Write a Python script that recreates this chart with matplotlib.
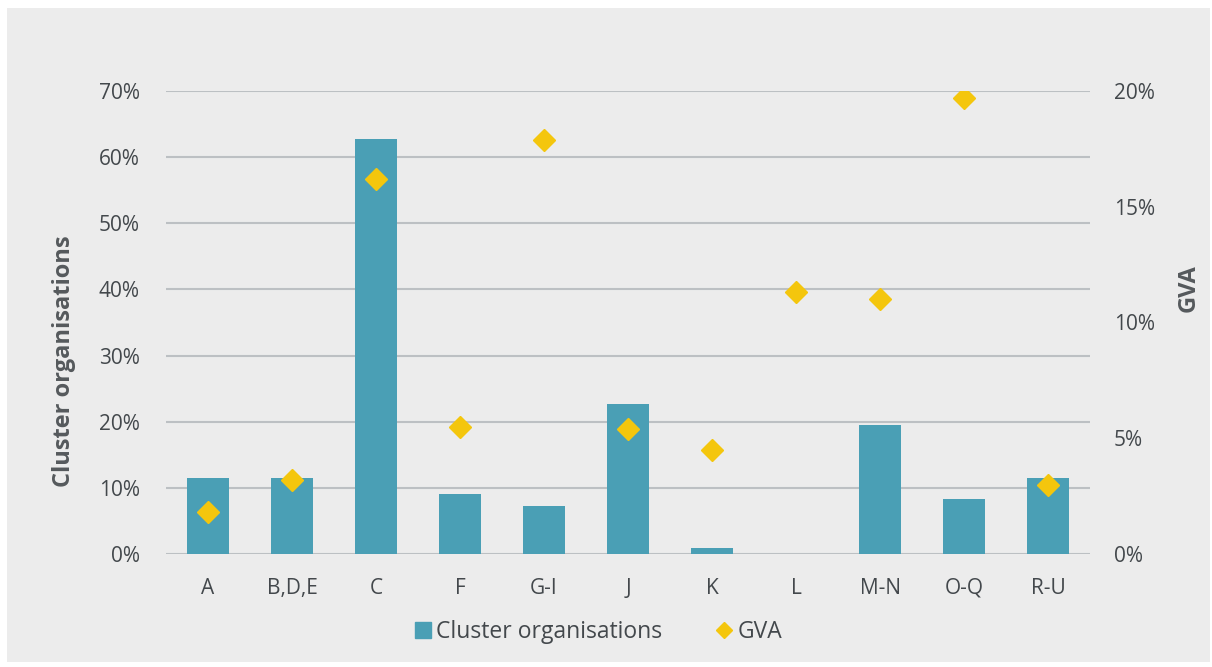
import matplotlib
matplotlib.use("Agg")
import matplotlib.pyplot as plt
from matplotlib.patches import Rectangle
from matplotlib.lines import Line2D
from matplotlib.ticker import FuncFormatter

categories = ["A", "B,D,E", "C", "F", "G-I", "J", "K", "L", "M-N", "O-Q", "R-U"]
cluster_orgs = [11.5, 11.5, 62.7, 9.1, 7.3, 22.7, 0.9, 0.0, 19.5, 8.3, 11.5]
gva = [1.8, 3.2, 16.2, 5.5, 17.9, 5.4, 4.5, 11.3, 11.0, 19.7, 3.0]
left_ticks = [0, 10, 20, 30, 40, 50, 60, 70]
right_ticks = [0, 5, 10, 15, 20]

BAR = "#4a9fb5"
DIA = "#f4c60d"
TXT = "#43484c"
GRID = "#bcc0c3"
PANEL = "#ececec"

plt.rcParams['font.family'] = ['Open Sans', 'DejaVu Sans']

fig = plt.figure(figsize=(12.12, 6.67), dpi=100)
fig.patch.set_facecolor("white")
fig.patches.append(Rectangle((7/1212, 5/667), (1210-7)/1212, (659-5)/667,
                             transform=fig.transFigure, facecolor=PANEL,
                             edgecolor="none", zorder=-10))

ax = fig.add_axes([166/1212, (667-554)/667, (1090-166)/1212, (554-91)/667])
ax.set_facecolor("none")
x = list(range(len(categories)))
ax.bar(x, cluster_orgs, width=0.5, color=BAR, zorder=3)
ax.set_xlim(-0.5, len(categories) - 0.5)
ax.set_ylim(0, 70)
ax.set_yticks(left_ticks)
ax.yaxis.set_major_formatter(FuncFormatter(lambda v, p: f"{v:.0f}%"))
ax.set_xticks(x)
ax.set_xticklabels(categories)
ax.grid(axis="y", color=GRID, linewidth=1.5, zorder=0)
for s in ax.spines.values():
    s.set_visible(False)
ax.tick_params(axis="both", length=0, labelsize=15, colors=TXT)
ax.tick_params(axis="y", pad=19)
ax.tick_params(axis="x", pad=17)
ax.set_ylabel("Cluster organisations", fontsize=17, fontweight="bold", color="#55595c")
ax.yaxis.set_label_coords(-90/924, 0.417)

ax2 = ax.twinx()
ax2.plot(x, gva, linestyle="none", marker="D", markersize=11, color=DIA, zorder=5)
ax2.set_ylim(0, 20)
ax2.set_yticks(right_ticks)
ax2.yaxis.set_major_formatter(FuncFormatter(lambda v, p: f"{v:.0f}%"))
for s in ax2.spines.values():
    s.set_visible(False)
ax2.tick_params(axis="y", length=0, labelsize=15, colors=TXT, pad=17)
ax2.set_ylabel("GVA", fontsize=17, fontweight="bold", color="#55595c")
ax2.yaxis.set_label_coords(1 + 87/924, 0.575)

handles = [Line2D([], [], linestyle="none", marker="s", markersize=11, color=BAR),
           Line2D([], [], linestyle="none", marker="D", markersize=8, color=DIA)]
fig.legend(handles, ["Cluster organisations", "GVA"], loc="center",
           bbox_to_anchor=(597/1212, 1 - 632/667), ncol=2, frameon=False,
           fontsize=16.5, labelcolor=TXT, handletextpad=0.1, columnspacing=2.2,
           handlelength=1.0)

fig.savefig("out.png", dpi=100, facecolor=fig.get_facecolor())
